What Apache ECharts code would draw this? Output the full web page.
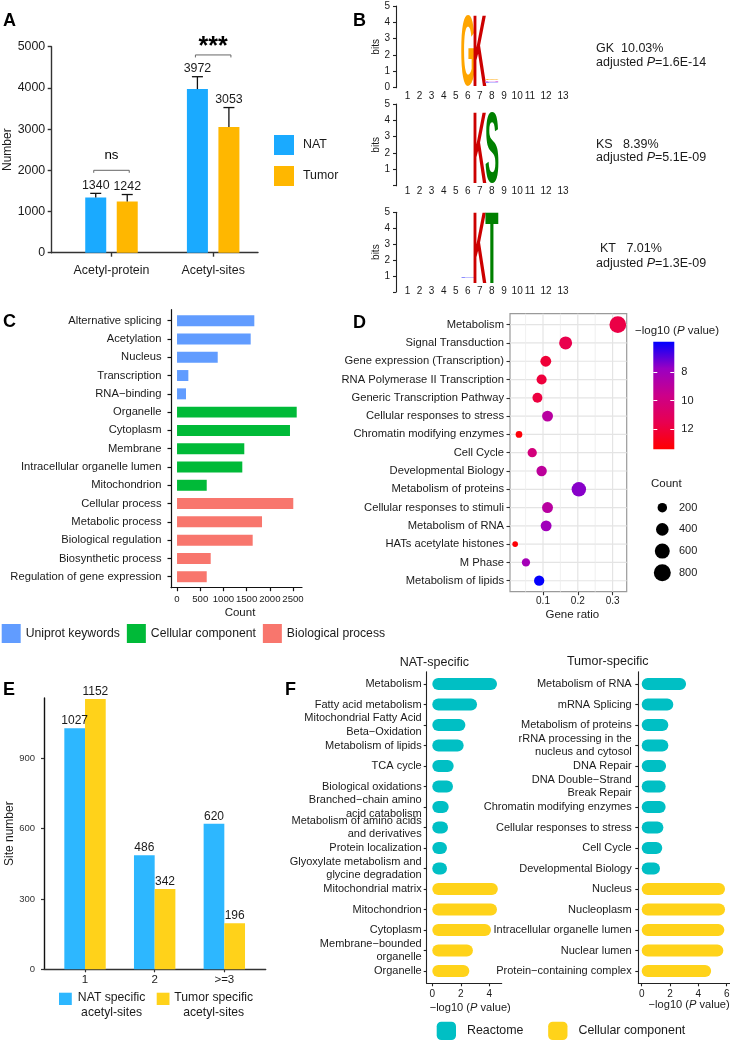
<!DOCTYPE html>
<html lang="en">
<head>
  <meta charset="utf-8">
  <script src="https://cdn.jsdelivr.net/npm/echarts@6/dist/echarts.min.js"></script>
</head>
<body style="margin: 0; background: #fff">
  <div id="container" style="width: 730px; height: 1041px"></div>
  <script>
    // ---------- A: acetyl-proteins / acetyl-sites ----------
    const aCats = ['Acetyl-protein', 'Acetyl-sites'];
    const aNat = [1340, 3972];
    const aTumor = [1242, 3053];
    const aNatErr = [100, 300];
    const aTumorErr = [170, 470];
    const aSigText = ['ns', '***'];
    const aSigLevel = [2000, 4800];

    // ---------- B: motifs ----------
    const bMotifs = ['GK', 'KS', 'KT'];
    const bShare = ['10.03%', '8.39%', '7.01%'];
    const bPadj = ['1.6E-14', '5.1E-09', '1.3E-09'];
    const bPositions = ['1', '2', '3', '4', '5', '6', '7', '8', '9', '10', '11', '12', '13'];
    // where each position label sits (two-digit labels are spread out in the figure)
    const bLabelAt = [1, 2, 3, 4, 5, 6, 7, 8, 9, 10.1, 11.15, 12.5, 13.9];
    // [position, bottom (bits), top (bits), residue]
    const bStacks = [
      [[6, 0.1, 4.45, 'G'], [7, 0.1, 4.45, 'K'], [8, 0.47, 0.56, 'G'], [8, 0.37, 0.47, 'N'], [8, 0.28, 0.37, 'E']],
      [[7, 0.15, 4.53, 'K'], [8, 0.15, 4.53, 'S']],
      [[6, 0.86, 0.95, 'E'], [7, 0.55, 5.0, 'K'], [8, 0.55, 5.0, 'T']]
    ];

    // ---------- C: functional annotation ----------
    const cTerms = ['Alternative splicing', 'Acetylation', 'Nucleus', 'Transcription', 'RNA\u2212binding',
      'Organelle', 'Cytoplasm', 'Membrane', 'Intracellular organelle lumen', 'Mitochondrion',
      'Cellular process', 'Metabolic process', 'Biological regulation', 'Biosynthetic process', 'Regulation of gene expression'];
    const cCounts = [1666, 1588, 877, 244, 194, 2580, 2435, 1450, 1407, 640, 2506, 1832, 1631, 726, 640];
    const cGroups = ['Uniprot keywords', 'Cellular component', 'Biological process'];
    const cGroupOf = [0, 0, 0, 0, 0, 1, 1, 1, 1, 1, 2, 2, 2, 2, 2];
    const cXTicks = [0, 500, 1000, 1500, 2000, 2500];

    // ---------- D: Reactome enrichment ----------
    const dTerms = ['Metabolism', 'Signal Transduction', 'Gene expression (Transcription)', 'RNA Polymerase II Transcription',
      'Generic Transcription Pathway', 'Cellular responses to stress', 'Chromatin modifying enzymes', 'Cell Cycle',
      'Developmental Biology', 'Metabolism of proteins', 'Cellular responses to stimuli', 'Metabolism of RNA',
      'HATs acetylate histones', 'M Phase', 'Metabolism of lipids'];
    const dRatio = [0.315, 0.165, 0.108, 0.096, 0.084, 0.113, 0.031, 0.069, 0.096, 0.203, 0.113, 0.109, 0.020, 0.051, 0.089];
    const dCount = [775, 430, 280, 235, 225, 285, 78, 190, 250, 550, 285, 280, 45, 140, 245];
    const dLogP = [11.75, 11.6, 12.1, 12.0, 11.9, 8.9, 13.2, 10.1, 9.05, 7.55, 8.9, 8.0, 13.25, 8.15, 5.95];
    const dXTicks = [0.1, 0.2, 0.3];
    const dXMinor = [0.05, 0.15, 0.25];
    const dLogRange = [5.9, 13.4];
    const dLogTicks = [8, 10, 12];
    const dCountTicks = [200, 400, 600, 800];

    // ---------- E: site number ----------
    const eCats = ['1', '2', '>=3'];
    const eNat = [1027, 486, 620];
    const eTumor = [1152, 342, 196];
    const eYTicks = [0, 300, 600, 900];

    // ---------- F: specific enrichment ----------
    const fGroups = ['Reactome', 'Cellular component'];
    const fNatTerms = ['Metabolism', 'Fatty acid metabolism', 'Mitochondrial Fatty Acid\nBeta\u2212Oxidation', 'Metabolism of lipids',
      'TCA cycle', 'Biological oxidations', 'Branched\u2212chain amino\nacid catabolism', 'Metabolism of amino acids\nand derivatives',
      'Protein localization', 'Glyoxylate metabolism and\nglycine degradation', 'Mitochondrial matrix', 'Mitochondrion',
      'Cytoplasm', 'Membrane\u2212bounded\norganelle', 'Organelle'];
    const fNatVals = [4.54, 3.14, 2.32, 2.2, 1.5, 1.45, 1.15, 1.1, 1.03, 1.03, 4.6, 4.54, 4.12, 2.85, 2.6];
    const fTumTerms = ['Metabolism of RNA', 'mRNA Splicing', 'Metabolism of proteins', 'rRNA processing in the\nnucleus and cytosol',
      'DNA Repair', 'DNA Double\u2212Strand\nBreak Repair', 'Chromatin modifying enzymes', 'Cellular responses to stress',
      'Cell Cycle', 'Developmental Biology', 'Nucleus', 'Nucleoplasm', 'Intracellular organelle lumen', 'Nuclear lumen',
      'Protein\u2212containing complex'];
    const fTumVals = [3.13, 2.23, 1.88, 1.88, 1.72, 1.69, 1.69, 1.53, 1.45, 1.29, 5.88, 5.88, 5.83, 5.76, 4.9];
    const fGroupOf = [0, 0, 0, 0, 0, 0, 0, 0, 0, 0, 1, 1, 1, 1, 1];

    // ---------- styles ----------
    const FONT = 'Liberation Sans';
    const INK = '#1a1a1a';
    const aColors = ['#1AAAFF', '#FFB700'];
    const bColor = { G: '#FFA500', K: '#CC0000', S: '#008000', T: '#008000', N: '#E58BE5', E: '#8C8CFF' };
    const cColors = ['#619CFF', '#00BA38', '#F8766D'];
    const dColors = ['#0000FF', '#9A00C2', '#CC0089', '#E80050', '#FF0000'];
    const eColors = ['#2DB7FF', '#FFD21A'];
    const fColors = ['#00BFC4', '#FFD31A'];

    const dom = document.getElementById('container');
    const chart = echarts.init(dom, null, { renderer: 'canvas' });

    const grid = [], xAxis = [], yAxis = [], series = [], graphic = [], legend = [];

    function panel(g, xa, ya) {
      g.outerBoundsMode = 'none';
      grid.push(g);
      const gi = grid.length - 1;
      xa.gridIndex = gi;
      ya.gridIndex = gi;
      xAxis.push(xa);
      yAxis.push(ya);
      return { x: xAxis.length - 1, y: yAxis.length - 1 };
    }
    function line(color, width) {
      return { show: true, onZero: false, lineStyle: { color: color, width: width } };
    }
    const hiddenLine = { show: false, onZero: false };
    function ticks(values, len, color, width) {
      return { show: true, customValues: values, length: len, lineStyle: { color: color, width: width } };
    }
    const plain = v => String(v);
    const noSplit = { show: false };
    function txt(x, y, text, size, extra) {
      graphic.push({
        type: 'text', x: x, y: y, silent: true,
        style: Object.assign({ text: text, fontSize: size, fontFamily: FONT, fill: INK, align: 'left', verticalAlign: 'middle' }, extra || {})
      });
    }
    const italicP = size => ({ i: { fontStyle: 'italic', fontSize: size, fontFamily: FONT, fill: INK } });

    // horizontal bar drawn from 0 to the value on a value/value grid
    function hbar(frac, round) {
      return function (params, api) {
        const a = api.coord([0, api.value(1)]);
        const b = api.coord([api.value(0), api.value(1)]);
        const h = api.size([0, frac])[1];
        return {
          type: 'rect',
          shape: { x: a[0], y: a[1] - h / 2, width: b[0] - a[0], height: h, r: round ? h / 2 : 0 },
          style: { fill: api.visual('color') }
        };
      };
    }

    // stretched letters for the sequence logos
    const LOGO_FONT = 'bold 100px "Liberation Sans"';
    const meas = document.createElement('canvas').getContext('2d');
    meas.font = LOGO_FONT;
    meas.textBaseline = 'middle';
    function glyph(ch, x0, x1, yTop, yBot, color) {
      const m = meas.measureText(ch);
      const l = m.actualBoundingBoxLeft, r = m.actualBoundingBoxRight;
      const a = m.actualBoundingBoxAscent, d = m.actualBoundingBoxDescent;
      const sx = (x1 - x0) / (l + r), sy = (yBot - yTop) / (a + d);
      return {
        type: 'text', x: x0 + l * sx, y: yTop + a * sy, scaleX: sx, scaleY: sy,
        style: { text: ch, font: LOGO_FONT, fill: color, align: 'left', verticalAlign: 'middle' }
      };
    }

    // panel letters
    [['A', 3, 21.5], ['B', 353, 21.5], ['C', 3, 321.7], ['D', 353, 323], ['E', 3, 690], ['F', 285, 689.7]]
      .forEach(([t, x, y]) => txt(x, y, t, 18, { fontWeight: 'bold', fill: '#000' }));

    // ================= A =================
    const aIdx = [1, 2];
    const pA = panel({ left: 51.7, top: 46.7, width: 206.3, height: 206 },
      {
        type: 'value', min: 0.412, max: 2.441, axisLine: line('#333', 1.4), axisTick: ticks(aIdx, 4, '#333', 1.4),
        axisLabel: { customValues: aIdx, formatter: v => aCats[v - 1], fontSize: 12.4, color: INK, margin: 11.5 },
        splitLine: noSplit
      },
      {
        type: 'value', min: 0, max: 5000, interval: 1000, axisLine: line('#333', 1.4),
        axisTick: { show: true, length: 4, lineStyle: { color: '#333', width: 1.4 } },
        axisLabel: { fontSize: 12.4, color: INK, margin: 6.5, formatter: plain }, splitLine: noSplit,
        name: 'Number', nameLocation: 'middle', nameGap: 38.5, nameMoveOverlap: false,
        nameTextStyle: { fontSize: 12, color: INK }
      });
    const A_BAR = 21;
    const A_SHIFT = A_BAR * 1.5 / 2;
    [['NAT', aNat], ['Tumor', aTumor]].forEach(([name, vals], k) => {
      series.push({
        type: 'bar', name: name, xAxisIndex: pA.x, yAxisIndex: pA.y, barWidth: A_BAR, barGap: '50%',
        itemStyle: { color: aColors[k] }, data: vals.map((v, i) => [i + 1, v])
      });
    });
    [[aNat, aNatErr, -1], [aTumor, aTumorErr, 1]].forEach(([vals, errs, side]) => {
      series.push({
        type: 'custom', xAxisIndex: pA.x, yAxisIndex: pA.y, silent: true, z: 3,
        data: vals.map((v, i) => [i + 1, v, errs[i]]),
        renderItem: function (params, api) {
          const base = api.coord([api.value(0), api.value(1)]);
          const top = api.coord([api.value(0), api.value(1) + api.value(2)]);
          const cx = base[0] + side * A_SHIFT;
          return {
            type: 'group', children: [
              { type: 'line', shape: { x1: cx, y1: base[1], x2: cx, y2: top[1] }, style: { stroke: '#111', lineWidth: 1.3 } },
              { type: 'line', shape: { x1: cx - 5.5, y1: top[1], x2: cx + 5.5, y2: top[1] }, style: { stroke: '#111', lineWidth: 1.3 } },
              {
                type: 'text', x: cx, y: top[1] - 2,
                style: { text: String(api.value(1)), fontSize: 12.4, fontFamily: FONT, fill: INK, align: 'center', verticalAlign: 'bottom' }
              }
            ]
          };
        }
      });
    });
    series.push({
      type: 'custom', xAxisIndex: pA.x, yAxisIndex: pA.y, silent: true,
      data: aSigLevel.map((v, i) => [i + 1, v]),
      renderItem: function (params, api) {
        const p = api.coord([api.value(0), api.value(1)]);
        const label = aSigText[params.dataIndex];
        const star = label !== 'ns';
        const x1 = p[0] - A_SHIFT - 2, x2 = p[0] + A_SHIFT + 2, y = p[1];
        return {
          type: 'group', children: [
            { type: 'polyline', shape: { points: [[x1, y + 2.5], [x1, y], [x2, y], [x2, y + 2.5]] }, style: { stroke: '#666', lineWidth: 1, fill: null } },
            {
              type: 'text', x: p[0], y: star ? y - 7.5 : y - 15,
              style: { text: label, fontSize: star ? 25 : 13.3, fontWeight: star ? 'bold' : 'normal', fontFamily: FONT, fill: '#000', align: 'center', verticalAlign: 'middle' }
            }
          ]
        };
      }
    });
    legend.push({
      left: 274, top: 135, padding: 0, orient: 'vertical', itemWidth: 20, itemHeight: 20, itemGap: 11, icon: 'rect', selectedMode: false,
      textStyle: { fontSize: 12.4, color: INK, fontFamily: FONT, padding: [0, 0, 0, 4] },
      data: [{ name: 'NAT', itemStyle: { color: aColors[0] } }, { name: 'Tumor', itemStyle: { color: aColors[1] } }]
    });

    // ================= B =================
    const bLayout = [
      { top: 6, height: 81.7, margin: 3.3, tx: [596, 596], ty: [48.3, 62.7] },
      { top: 104, height: 81.7, margin: 1, tx: [596, 596], ty: [144.3, 157.3] },
      { top: 212.3, height: 79.7, margin: -6, tx: [600, 596], ty: [248.3, 263.3] }
    ];
    bStacks.forEach((stack, k) => {
      const L = bLayout[k];
      const yLab = k === 0 ? [0, 1, 2, 3, 4, 5] : [1, 2, 3, 4, 5];
      const p = panel({ left: 401.5, top: L.top, width: 168.7, height: L.height },
        {
          type: 'value', min: 0.5, max: 14.5, axisLine: hiddenLine, axisTick: { show: false },
          axisLabel: {
            customValues: bLabelAt, formatter: v => bPositions[bLabelAt.indexOf(v)],
            fontSize: 10, color: INK, margin: L.margin
          },
          splitLine: noSplit
        },
        {
          type: 'value', min: 0, max: 5, offset: 5.5, axisLine: line('#222', 1.1), axisTick: ticks([0, 1, 2, 3, 4, 5], 3, '#222', 1.1),
          axisLabel: { customValues: yLab, fontSize: 10, color: INK, margin: 6 }, splitLine: noSplit,
          name: 'bits', nameLocation: 'middle', nameGap: 15, nameMoveOverlap: false, nameTextStyle: { fontSize: 10, color: INK }
        });
      series.push({
        type: 'custom', xAxisIndex: p.x, yAxisIndex: p.y, silent: true,
        data: stack.map(s => [s[0], s[1], s[2]]),
        renderItem: function (params, api) {
          const ch = stack[params.dataIndex][3];
          const lo = api.coord([api.value(0), api.value(1)]);
          const hi = api.coord([api.value(0), api.value(2)]);
          const w = api.size([1.08, 0])[0];
          return glyph(ch, lo[0] - w / 2, lo[0] + w / 2, hi[1], lo[1], bColor[ch]);
        }
      });
      const gapStr = bShare[k].length > 5 ? '  ' : '   ';
      txt(L.tx[0], L.ty[0], bMotifs[k] + gapStr + bShare[k], 12.5);
      txt(L.tx[1], L.ty[1], 'adjusted {i|P}=' + bPadj[k], 12.5, { rich: italicP(12.5) });
    });

    // ================= C =================
    const cIdx = cTerms.map((_, i) => i);
    const pC = panel({ left: 171, top: 309.7, width: 131, height: 278 },
      {
        type: 'value', min: -130, max: 2694, axisLine: line('#111', 1.2), axisTick: ticks(cXTicks, 3.5, '#111', 1.2),
        axisLabel: { customValues: cXTicks, formatter: plain, fontSize: 9.6, color: INK, margin: 6.5 }, splitLine: noSplit,
        name: 'Count', nameLocation: 'middle', nameGap: 19, nameMoveOverlap: false,
        nameTextStyle: { fontSize: 11.5, color: INK, padding: [0, 0, 0, 7] }
      },
      {
        type: 'value', inverse: true, min: -0.6, max: cTerms.length - 0.4, axisLine: line('#111', 1.2),
        axisTick: ticks(cIdx, 3.5, '#111', 1.2),
        axisLabel: { customValues: cIdx, formatter: v => cTerms[v], fontSize: 11.2, color: INK, margin: 9.5 },
        splitLine: noSplit
      });
    cGroups.forEach((name, g) => {
      series.push({
        type: 'custom', name: name, xAxisIndex: pC.x, yAxisIndex: pC.y, itemStyle: { color: cColors[g] },
        data: cCounts.map((v, i) => [v, i]).filter((_, i) => cGroupOf[i] === g),
        renderItem: hbar(0.6, false)
      });
    });
    legend.push({
      left: 1.7, top: 624, padding: 0, itemWidth: 19, itemHeight: 19, itemGap: 7, icon: 'rect', selectedMode: false,
      textStyle: { fontSize: 12.2, color: INK, fontFamily: FONT },
      data: cGroups.map((n, g) => ({ name: n, itemStyle: { color: cColors[g] } }))
    });

    // ================= D =================
    const sizeOf = c => 2 + 0.53 * Math.sqrt(c);
    const dIdx = dTerms.map((_, i) => i);
    const D_XMIN = 0.00517, D_XMAX = 0.3405, D_YMIN = -0.6, D_YMAX = dTerms.length - 0.4;
    const pD = panel({ left: 510, top: 313.7, width: 116.7, height: 278, show: true, borderColor: '#9a9a9a', borderWidth: 1.2, backgroundColor: '#fff' },
      {
        type: 'value', min: D_XMIN, max: D_XMAX, axisLine: hiddenLine, axisTick: ticks(dXTicks, 3.5, '#333', 1.1),
        axisLabel: { customValues: dXTicks, fontSize: 10, color: INK, margin: 5 }, splitLine: noSplit,
        name: 'Gene ratio', nameLocation: 'middle', nameGap: 17, nameMoveOverlap: false,
        nameTextStyle: { fontSize: 11.5, color: INK, padding: [0, 0, 0, 8] }
      },
      {
        type: 'value', inverse: true, min: D_YMIN, max: D_YMAX, axisLine: hiddenLine,
        axisTick: ticks(dIdx, 3.5, '#333', 1.1),
        axisLabel: { customValues: dIdx, formatter: v => dTerms[v], fontSize: 11.2, color: INK, margin: 6 },
        splitLine: noSplit
      });
    // panel grid: one line per category row and per major / minor gene-ratio value
    series.push({
      type: 'custom', xAxisIndex: pD.x, yAxisIndex: pD.y, silent: true, z: 1,
      data: [[0.1, 0]],
      renderItem: function (params, api) {
        const tl = api.coord([D_XMIN, D_YMIN]);
        const br = api.coord([D_XMAX, D_YMAX]);
        const children = [];
        dIdx.forEach(i => {
          const y = api.coord([0.1, i])[1];
          children.push({ type: 'line', shape: { x1: tl[0], y1: y, x2: br[0], y2: y }, style: { stroke: '#E4E4E4', lineWidth: 1.2 } });
        });
        dXTicks.forEach(v => {
          const x = api.coord([v, 0])[0];
          children.push({ type: 'line', shape: { x1: x, y1: tl[1], x2: x, y2: br[1] }, style: { stroke: '#E4E4E4', lineWidth: 1.2 } });
        });
        dXMinor.forEach(v => {
          const x = api.coord([v, 0])[0];
          children.push({ type: 'line', shape: { x1: x, y1: tl[1], x2: x, y2: br[1] }, style: { stroke: '#ECECEC', lineWidth: 0.8 } });
        });
        return { type: 'group', children: children };
      }
    });
    const dScatterIndex = series.length;
    series.push({
      type: 'scatter', xAxisIndex: pD.x, yAxisIndex: pD.y, z: 3,
      data: dTerms.map((t, i) => [dRatio[i], i, dCount[i], dLogP[i]]),
      symbolSize: d => sizeOf(d[2]),
      itemStyle: { opacity: 1 }
    });
    // colour bar
    const pCb = panel({ left: 653.3, top: 341.7, width: 21, height: 107.6 },
      { type: 'value', min: 0, max: 1, show: false },
      {
        type: 'value', inverse: true, min: dLogRange[0], max: dLogRange[1], position: 'right', z: 10,
        axisLine: hiddenLine,
        axisTick: { show: true, inside: true, customValues: dLogTicks, length: 4, lineStyle: { color: '#fff', width: 1 } },
        axisLabel: { customValues: dLogTicks, fontSize: 11, color: INK, margin: 7 }, splitLine: noSplit
      });
    yAxis.push({
      gridIndex: grid.length - 1, type: 'value', inverse: true, min: dLogRange[0], max: dLogRange[1], position: 'left', z: 10,
      axisLine: hiddenLine,
      axisTick: { show: true, inside: true, customValues: dLogTicks, length: 4, lineStyle: { color: '#fff', width: 1 } },
      axisLabel: { show: false }, splitLine: noSplit
    });
    series.push({
      type: 'custom', xAxisIndex: pCb.x, yAxisIndex: pCb.y, silent: true, z: 1,
      data: [[0, dLogRange[0], dLogRange[1]]],
      renderItem: function (params, api) {
        const a = api.coord([0, api.value(1)]);
        const b = api.coord([1, api.value(2)]);
        return {
          type: 'rect', shape: { x: a[0], y: a[1], width: b[0] - a[0], height: b[1] - a[1] },
          style: {
            fill: new echarts.graphic.LinearGradient(0, 0, 0, 1,
              dColors.map((c, i) => ({ offset: i / (dColors.length - 1), color: c })))
          }
        };
      }
    });
    txt(635, 331, '\u2212log10 ({i|P} value)', 11.5, { rich: italicP(11.5) });
    txt(651, 484, 'Count', 11.5);
    dCountTicks.forEach((c, i) => {
      const y = 507.7 + i * 21.7;
      graphic.push({ type: 'circle', silent: true, shape: { cx: 662.3, cy: y, r: sizeOf(c) / 2 }, style: { fill: '#000' } });
      txt(679, y, String(c), 11);
    });

    // ================= E =================
    const eIdx = [1, 2, 3];
    const pE = panel({ left: 44, top: 698, width: 221.7, height: 271.3 },
      {
        type: 'value', min: 0.411, max: 3.594, axisLine: line('#333', 1.4), axisTick: ticks(eIdx, 3, '#333', 1.2),
        axisLabel: { customValues: eIdx, formatter: v => eCats[v - 1], fontSize: 11.5, color: INK, margin: 4.5 },
        splitLine: noSplit
      },
      {
        type: 'value', min: 0, max: 1156, axisLine: line('#111', 1.4), axisTick: ticks(eYTicks, 3, '#333', 1.2),
        axisLabel: { customValues: eYTicks, formatter: plain, fontSize: 9.5, color: '#333', margin: 9 }, splitLine: noSplit,
        name: 'Site number', nameLocation: 'middle', nameGap: 28.5, nameMoveOverlap: false,
        nameTextStyle: { fontSize: 12, color: INK }
      });
    [['NAT specific', eNat], ['Tumor specific', eTumor]].forEach(([name, vals], k) => {
      series.push({
        type: 'bar', name: name, xAxisIndex: pE.x, yAxisIndex: pE.y, barWidth: 20.7, barGap: '0%',
        itemStyle: { color: eColors[k] },
        label: { show: true, position: 'top', distance: 1.5, fontSize: 12, color: INK, fontFamily: FONT, formatter: p => p.value[1] },
        data: vals.map((v, i) => [i + 1, v])
      });
    });
    [['NAT specific\nacetyl-sites', 59, 111.6], ['Tumor specific\nacetyl-sites', 156.7, 213.7]].forEach(([t, bx, tx], k) => {
      graphic.push({ type: 'rect', silent: true, shape: { x: bx, y: 992.7, width: 12.8, height: 12.3 }, style: { fill: eColors[k] } });
      txt(tx, 990, t, 12.2, { align: 'center', verticalAlign: 'top', lineHeight: 15 });
    });

    // ================= F =================
    function fPanel(g, terms, vals, xMin, xMax, xTicks, labMargin, nameGap, namePad) {
      const idx = terms.map((_, i) => i);
      const p = panel(g,
        {
          type: 'value', min: xMin, max: xMax, axisLine: line('#222', 1.1), axisTick: ticks(xTicks, 3, '#222', 1.1),
          axisLabel: { customValues: xTicks, fontSize: 10, color: INK, margin: 6 }, splitLine: noSplit,
          name: '\u2212log10 ({i|P} value)', nameLocation: 'middle', nameGap: nameGap, nameMoveOverlap: false,
          nameTextStyle: { fontSize: 11.1, color: INK, padding: [0, 0, 0, namePad], rich: italicP(11.1) }
        },
        {
          type: 'value', inverse: true, min: -0.6, max: terms.length - 0.4, axisLine: line('#222', 1.1),
          axisTick: ticks(idx, 3, '#222', 1.1),
          axisLabel: { customValues: idx, formatter: v => terms[v], fontSize: 11, lineHeight: 13.3, color: INK, margin: labMargin },
          splitLine: noSplit
        });
      fGroups.forEach((name, k) => {
        series.push({
          type: 'custom', name: name, xAxisIndex: p.x, yAxisIndex: p.y, itemStyle: { color: fColors[k] },
          data: vals.map((v, i) => [v, i]).filter((_, i) => fGroupOf[i] === k),
          renderItem: hbar(0.585, true)
        });
      });
    }
    fPanel({ left: 426.7, top: 671.7, width: 75, height: 311.6 }, fNatTerms, fNatVals, -0.393, 4.87, [0, 2, 4], 5, 19, 12);
    fPanel({ left: 638.3, top: 671.7, width: 91.7, height: 311.6 }, fTumTerms, fTumVals, -0.24, 6.23, [0, 2, 4, 6], 6.6, 16.5, 10);
    txt(434.3, 662.7, 'NAT-specific', 12.5, { align: 'center' });
    txt(607.7, 661.7, 'Tumor-specific', 12.5, { align: 'center' });
    legend.push({
      left: 436.7, top: 1021.7, padding: 0, itemWidth: 19.3, itemHeight: 18.3, itemGap: 24.7, icon: 'roundRect', selectedMode: false,
      textStyle: { fontSize: 12.4, color: INK, fontFamily: FONT, padding: [0, 0, 0, 6] },
      data: fGroups.map((n, k) => ({ name: n, itemStyle: { color: fColors[k] } }))
    });

    chart.setOption({
      animation: false,
      backgroundColor: '#fff',
      textStyle: { fontFamily: FONT },
      grid: grid,
      xAxis: xAxis,
      yAxis: yAxis,
      legend: legend,
      visualMap: [{
        type: 'continuous', show: false, seriesIndex: dScatterIndex, dimension: 3,
        min: dLogRange[0], max: dLogRange[1], inRange: { color: dColors }
      }],
      series: series,
      graphic: { elements: graphic }
    });

    window.addEventListener('resize', chart.resize);
  </script>
</body>
</html>
